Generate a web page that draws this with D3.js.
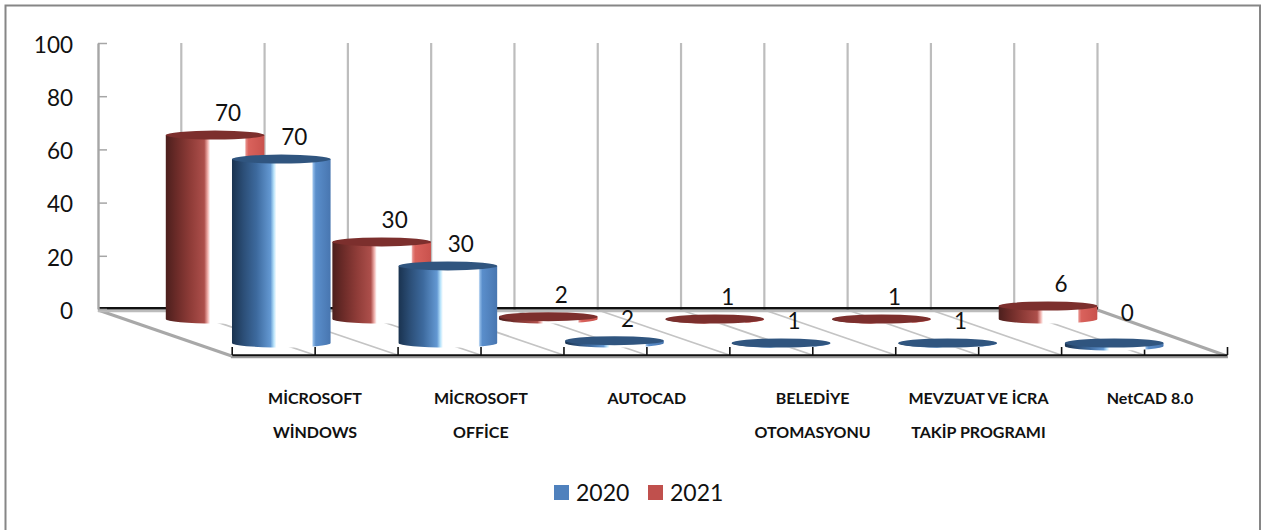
<!DOCTYPE html>
<html><head><meta charset="utf-8">
<script src="https://cdn.jsdelivr.net/npm/d3@7/dist/d3.min.js"></script>
<style>html,body{margin:0;padding:0;background:#fff}svg{display:block}text{font-family:Lato,sans-serif;fill:#111}</style>
</head><body><svg id="c" width="1261" height="530"></svg>
<script>
const categories = ["MİCROSOFT WİNDOWS","MİCROSOFT OFFİCE","AUTOCAD","BELEDİYE OTOMASYONU","MEVZUAT VE İCRA TAKİP PROGRAMI","NetCAD 8.0"];
const categoryLines = [["MİCROSOFT","WİNDOWS"],["MİCROSOFT","OFFİCE"],["AUTOCAD"],["BELEDİYE","OTOMASYONU"],["MEVZUAT VE İCRA","TAKİP PROGRAMI"],["NetCAD 8.0"]];
const values2020 = [70,30,2,1,1,0];
const values2021 = [70,30,2,1,1,6];
const yTicks = [0,20,40,60,80,100];
const seriesNames = ["2020","2021"];

const svg = d3.select("#c");
const defs = svg.append("defs");
function grad(id, stops){
  const g = defs.append("linearGradient").attr("id",id);
  stops.forEach(s=>g.append("stop").attr("offset",s[0]).attr("stop-color",s[1]));
}
grad("gRed",[[0,"#4c1f1d"],[.12,"#6e2c29"],[.25,"#8f3c38"],[.39,"#ad4f4b"],[.425,"#f0b0ac"],[.45,"#fff"],[.8,"#fff"],[.815,"#e58a85"],[.84,"#d9625c"],[1,"#c9524d"]]);
grad("gBlue",[[0,"#1a3350"],[.12,"#2c4f78"],[.25,"#3d6a9e"],[.39,"#6398d2"],[.425,"#b9e4fb"],[.45,"#fff"],[.81,"#fff"],[.825,"#8db8e6"],[.85,"#5a8ecb"],[1,"#4876b0"]]);

svg.append("path").attr("d","M5.5,530V5.5H1260V530").attr("fill","#fff").attr("stroke","#868686").attr("stroke-width",2);

const y = d3.scaleLinear().domain([0,100]).range([309,43]);
const backHalf = d3.scaleLinear().domain([0,12]).range([98,1097.5]);
const frontHalf = d3.scaleLinear().domain([0,12]).range([231.7,1227]);
const band = d3.scaleBand().domain(categories).range([98,1097.5]);
const labelX = d3.scaleLinear().domain([0,4,5]).range([315,978.5,1150]);
const halfIdx = d3.range(0,13);
const floorTop = 310, floorBottom = 355;

// back wall grid
svg.append("g").selectAll("line").data(d3.range(1,13)).join("line")
  .attr("x1",d=>backHalf(d)).attr("x2",d=>backHalf(d)).attr("y1",y(100)).attr("y2",floorTop)
  .attr("stroke","#bdbdbd").attr("stroke-width",2.2);

// floor lines
svg.append("g").selectAll("line").data(d3.range(1,12)).join("line")
  .attr("x1",d=>backHalf(d)).attr("y1",floorTop).attr("x2",d=>frontHalf(d)).attr("y2",floorBottom)
  .attr("stroke","#c4c4c4").attr("stroke-width",1.8);
// floor edges
svg.append("g").selectAll("line").data([0,12]).join("line")
  .attr("x1",d=>backHalf(d)).attr("y1",floorTop).attr("x2",d=>frontHalf(d)).attr("y2",floorBottom+1)
  .attr("stroke","#a8a8a8").attr("stroke-width",3);
svg.append("line").attr("x1",98).attr("x2",1098).attr("y1",311).attr("y2",311).attr("stroke","#bcbcbc").attr("stroke-width",2.5);
svg.append("line").attr("x1",98).attr("x2",1098).attr("y1",308.2).attr("y2",308.2).attr("stroke","#111").attr("stroke-width",2.4);

// y axis
const ya = svg.append("g").attr("transform","translate(98,0)")
  .call(d3.axisLeft(y).tickValues(yTicks).tickSize(-9).tickSizeOuter(0).tickPadding(25));
ya.select(".domain").attr("stroke","#a6a6a6").attr("stroke-width",2.4);
ya.selectAll("line").attr("stroke","#a6a6a6").attr("stroke-width",1.5);
ya.selectAll("text").attr("font-size",22.5).attr("font-family","Lato").attr("fill","#111").attr("y",2);

// front axis
const xa = svg.append("g").attr("transform","translate(0,355)")
  .call(d3.axisBottom(frontHalf).tickValues(halfIdx).tickSize(-8).tickSizeOuter(0).tickFormat(""));
xa.select(".domain").attr("stroke","#111").attr("stroke-width",2.4);
xa.selectAll("line").attr("stroke","#111").attr("stroke-width",1.6);
svg.append("line").attr("x1",231).attr("x2",1228).attr("y1",357.3).attr("y2",357.3).attr("stroke","#9a9a9a").attr("stroke-width",2);

// cylinders
const rx = 49.3, ry = 4.5;
const depth = {"2021":{dx:33.8,base:319,fill:"url(#gRed)",top:"#7c2f2d"},"2020":{dx:100,base:343,fill:"url(#gBlue)",top:"#30557f"}};
const lift = v => v*2.67-3;
function draw(name, vals, i){
  const s = depth[name], c = categories[i], v = vals[i];
  const cx = band(c)+band.bandwidth()/2+s.dx;
  const h = lift(v);
  const top = s.base-Math.max(0,h), bot = s.base+Math.max(0,-h);
  const g = svg.append("g");
  if (h>0.5||h<0) g.append("path").attr("fill",s.fill)
    .attr("d",`M${cx-rx},${top}L${cx-rx},${bot}A${rx},${ry} 0 0 0 ${cx+rx},${bot}L${cx+rx},${top}Z`);
  g.append("ellipse").attr("cx",cx).attr("cy",top).attr("rx",rx).attr("ry",ry).attr("fill",s.top);
  return {cx,top,v};
}
const labels=[];
categories.forEach((c,i)=>{
  labels.push(draw("2021",values2021,i));
  labels.push(draw("2020",values2020,i));
});
svg.append("g").selectAll("text").data(labels).join("text")
  .attr("x",d=>d.cx+13).attr("y",d=>d.top-22-(d.v===0?8:0)).attr("dy","0.35em")
  .attr("text-anchor","middle").attr("font-size",22.5).text(d=>d.v);

// category labels
categories.forEach((c,i)=>{
  svg.append("text").attr("text-anchor","middle").attr("font-size",16).attr("font-weight",700)
    .selectAll("tspan").data(categoryLines[i]).join("tspan")
    .attr("x",labelX(i)).attr("y",(d,j)=>404+j*34).text(d=>d);
});

// legend
const legX = d3.scaleOrdinal().domain(seriesNames).range([554,648]);
const legC = d3.scaleOrdinal().domain(seriesNames).range(["#4f81bd","#c0504d"]);
seriesNames.forEach(n=>{
  svg.append("rect").attr("x",legX(n)).attr("y",485).attr("width",15).attr("height",15).attr("fill",legC(n));
  svg.append("text").attr("x",legX(n)+22).attr("y",492.5).attr("dy","0.35em").attr("font-size",23).text(n);
});
</script></body></html>
